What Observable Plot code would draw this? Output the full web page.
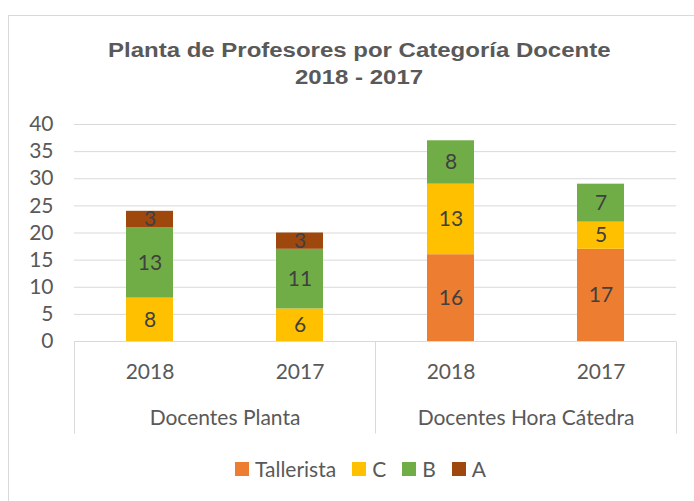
<!DOCTYPE html>
<html>
<head>
<meta charset="utf-8">
<script src="https://cdn.jsdelivr.net/npm/d3@7"></script>
<script src="https://cdn.jsdelivr.net/npm/@observablehq/plot@0.6"></script>
<style>
  html, body { margin: 0; padding: 0; background: #fff; overflow: hidden; }
  #wrap { position: relative; width: 694px; height: 501px; overflow: hidden; background: #fff; }
  #border { position: absolute; left: 8px; top: 15px; width: 800px; height: 600px; border: 1px solid #D9D9D9; box-sizing: border-box; }
  #title { position: absolute; left: 0; top: 37px; width: 718px; text-align: center;
           font-family: "Liberation Sans", Arial, sans-serif; font-weight: bold; font-size: 19.5px; line-height: 26.5px; color: #595959; }
  #title span { display: inline-block; transform: scaleX(1.23); transform-origin: center; }
  #chart { position: absolute; left: 0; top: 100px; }
  #legend { position: absolute; left: 0; top: 456px; width: 721px; display: flex; justify-content: center; align-items: center;
            font-family: Lato, sans-serif; font-size: 21px; line-height: 25px; color: #595959; }
  .item { display: flex; align-items: center; margin: 0 8px; }
  .sw { width: 14px; height: 14px; margin-right: 6px; margin-top: 1px; }
</style>
</head>
<body>
<div id="wrap">
  <div id="border"></div>
  <div id="title"><span>Planta de Profesores por Categoría Docente</span><br><span>2018 - 2017</span></div>
  <div id="chart"></div>
  <div id="legend"></div>
</div>
<script>
// ---- data ----
const groups = ["Docentes Planta", "Docentes Hora Cátedra"];
const years = ["2018", "2017"];
const barGroup = ["Docentes Planta", "Docentes Planta", "Docentes Hora Cátedra", "Docentes Hora Cátedra"];
const barYear = ["2018", "2017", "2018", "2017"];
const categories = ["Tallerista", "C", "B", "A"];
const colors = ["#ED7D31", "#FFC000", "#70AD47", "#9E480E"];
const talleristaValues = [0, 0, 16, 17];
const cValues = [8, 6, 13, 5];
const bValues = [13, 11, 8, 7];
const aValues = [3, 3, 0, 0];
const yTicks = [0, 5, 10, 15, 20, 25, 30, 35, 40];

const seriesValues = [talleristaValues, cValues, bValues, aValues];
const rows = [];
barGroup.forEach((g, i) => {
  categories.forEach((c, k) => {
    const v = seriesValues[k][i];
    if (v > 0) rows.push({group: g, year: barYear[i], cat: c, value: v});
  });
});

const W = 694, H = 345;
const chart = Plot.plot({
  width: W,
  height: H,
  marginLeft: 73,
  marginRight: 18,
  marginTop: 24,
  marginBottom: 104,
  style: {fontFamily: "Lato, sans-serif", fontSize: "21px", color: "#595959", background: "transparent", overflow: "visible"},
  fx: {domain: groups, padding: 0, axis: null},
  x: {domain: years, paddingInner: 0.688, paddingOuter: 0.344, axis: null},
  y: {domain: [0, 40], axis: null},
  color: {domain: categories, range: colors},
  marks: [
    Plot.gridY(yTicks, {stroke: "#D9D9D9", strokeOpacity: 1, strokeWidth: 1}),
    Plot.barY(rows, {fx: "group", x: "year", y: "value", fill: "cat", order: categories}),
    Plot.text(rows, Plot.stackY({fx: "group", x: "year", y: "value", z: "cat", order: categories, text: d => String(d.value), fill: "#404040", fontSize: 21})),
    Plot.axisY(yTicks, {tickSize: 0, tickPadding: 21, label: null, fill: "#595959"}),
    Plot.axisX({anchor: "bottom", tickSize: 0, tickPadding: 23, label: null, fill: "#595959"}),
    Plot.axisFx({anchor: "bottom", tickSize: 0, tickPadding: 69, label: null, fill: "#595959"})
  ]
});
document.getElementById("chart").appendChild(chart);

// category-axis box lines drawn from the library's scales
const fxs = chart.scale("fx");
const ys = chart.scale("y");
const y0 = Math.round(ys.apply(0)) + 0.5;
const yB = y0 + 92;
const svg = d3.select(chart);
const edges = [];
groups.forEach(g => { edges.push(fxs.apply(g)); });
edges.push(fxs.apply(groups[groups.length - 1]) + fxs.bandwidth);
const gBox = svg.append("g").attr("stroke", "#D9D9D9").attr("stroke-width", 1);
edges.forEach(x => {
  const xx = Math.round(x) + 0.5;
  gBox.append("line").attr("x1", xx).attr("x2", xx).attr("y1", y0).attr("y2", yB);
});

// legend
const leg = d3.select("#legend");
categories.forEach((c, k) => {
  const it = leg.append("div").attr("class", "item");
  it.append("div").attr("class", "sw").style("background", colors[k]);
  it.append("span").text(c);
});
</script>
</body>
</html>
